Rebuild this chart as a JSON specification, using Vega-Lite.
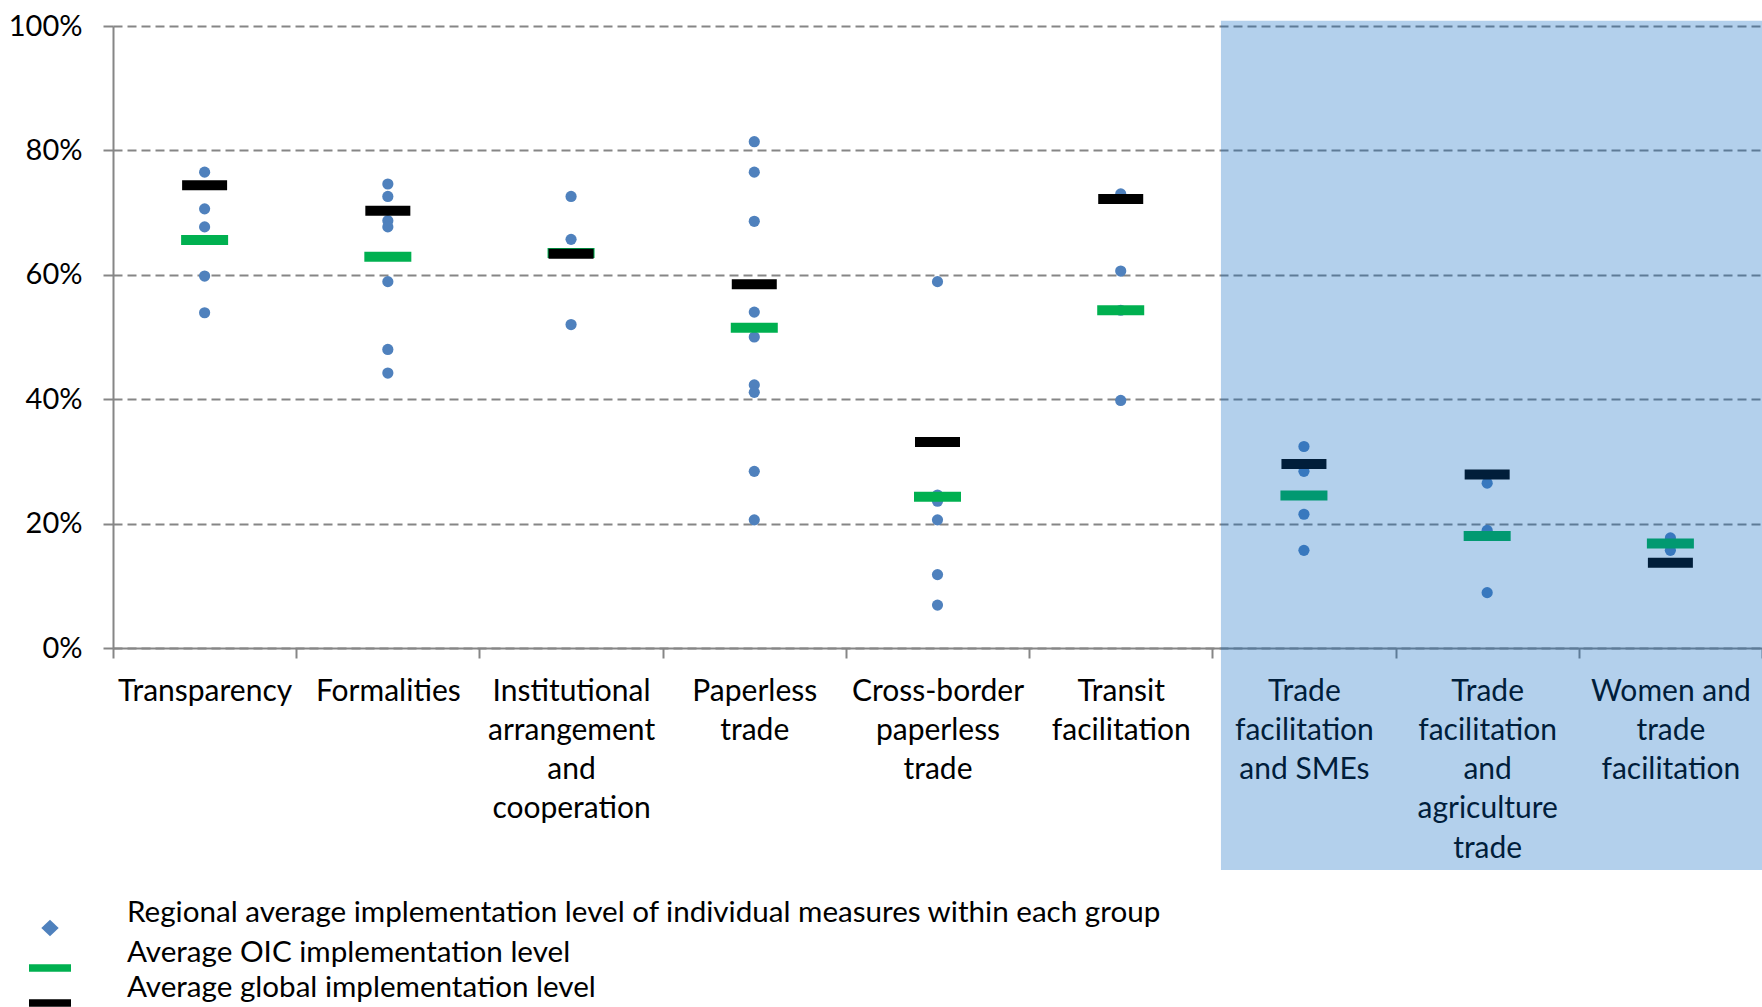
{
  "$schema": "https://vega.github.io/schema/vega-lite/v6.json",
  "width": 1649,
  "height": 622,
  "autosize": "none",
  "padding": {"left": 113, "top": 26, "right": 0, "bottom": 359},
  "background": "white",
  "config": {"view": {"stroke": null}, "font": "Lato"},
  "datasets": {
    "regional": [
      {"category": "Transparency", "value": 0.765},
      {"category": "Transparency", "value": 0.706},
      {"category": "Transparency", "value": 0.677},
      {"category": "Transparency", "value": 0.598},
      {"category": "Transparency", "value": 0.539},
      {"category": "Formalities", "value": 0.746},
      {"category": "Formalities", "value": 0.726},
      {"category": "Formalities", "value": 0.687},
      {"category": "Formalities", "value": 0.677},
      {"category": "Formalities", "value": 0.589},
      {"category": "Formalities", "value": 0.480},
      {"category": "Formalities", "value": 0.442},
      {"category": "Institutional arrangement and cooperation", "value": 0.726},
      {"category": "Institutional arrangement and cooperation", "value": 0.657},
      {"category": "Institutional arrangement and cooperation", "value": 0.520},
      {"category": "Paperless trade", "value": 0.814},
      {"category": "Paperless trade", "value": 0.765},
      {"category": "Paperless trade", "value": 0.686},
      {"category": "Paperless trade", "value": 0.540},
      {"category": "Paperless trade", "value": 0.500},
      {"category": "Paperless trade", "value": 0.423},
      {"category": "Paperless trade", "value": 0.411},
      {"category": "Paperless trade", "value": 0.284},
      {"category": "Paperless trade", "value": 0.206},
      {"category": "Cross-border paperless trade", "value": 0.589},
      {"category": "Cross-border paperless trade", "value": 0.246},
      {"category": "Cross-border paperless trade", "value": 0.236},
      {"category": "Cross-border paperless trade", "value": 0.206},
      {"category": "Cross-border paperless trade", "value": 0.118},
      {"category": "Cross-border paperless trade", "value": 0.069},
      {"category": "Transit facilitation", "value": 0.730},
      {"category": "Transit facilitation", "value": 0.606},
      {"category": "Transit facilitation", "value": 0.543},
      {"category": "Transit facilitation", "value": 0.398},
      {"category": "Trade facilitation and SMEs", "value": 0.324},
      {"category": "Trade facilitation and SMEs", "value": 0.284},
      {"category": "Trade facilitation and SMEs", "value": 0.215},
      {"category": "Trade facilitation and SMEs", "value": 0.157},
      {"category": "Trade facilitation and agriculture trade", "value": 0.265},
      {"category": "Trade facilitation and agriculture trade", "value": 0.189},
      {"category": "Trade facilitation and agriculture trade", "value": 0.089},
      {"category": "Women and trade facilitation", "value": 0.177},
      {"category": "Women and trade facilitation", "value": 0.157}
    ],
    "averages": [
      {"category": "Transparency", "series": "Average OIC implementation level", "value": 0.656},
      {"category": "Formalities", "series": "Average OIC implementation level", "value": 0.629},
      {"category": "Institutional arrangement and cooperation", "series": "Average OIC implementation level", "value": 0.635},
      {"category": "Paperless trade", "series": "Average OIC implementation level", "value": 0.515},
      {"category": "Cross-border paperless trade", "series": "Average OIC implementation level", "value": 0.243},
      {"category": "Transit facilitation", "series": "Average OIC implementation level", "value": 0.543},
      {"category": "Trade facilitation and SMEs", "series": "Average OIC implementation level", "value": 0.245},
      {"category": "Trade facilitation and agriculture trade", "series": "Average OIC implementation level", "value": 0.180},
      {"category": "Women and trade facilitation", "series": "Average OIC implementation level", "value": 0.168},
      {"category": "Transparency", "series": "Average global implementation level", "value": 0.744},
      {"category": "Formalities", "series": "Average global implementation level", "value": 0.703},
      {"category": "Institutional arrangement and cooperation", "series": "Average global implementation level", "value": 0.634},
      {"category": "Paperless trade", "series": "Average global implementation level", "value": 0.585},
      {"category": "Cross-border paperless trade", "series": "Average global implementation level", "value": 0.331},
      {"category": "Transit facilitation", "series": "Average global implementation level", "value": 0.722},
      {"category": "Trade facilitation and SMEs", "series": "Average global implementation level", "value": 0.296},
      {"category": "Trade facilitation and agriculture trade", "series": "Average global implementation level", "value": 0.279},
      {"category": "Women and trade facilitation", "series": "Average global implementation level", "value": 0.137}
    ],
    "legend": [
      {"series": "Regional average implementation level of individual measures within each group"},
      {"series": "Average OIC implementation level"},
      {"series": "Average global implementation level"}
    ],
    "shade": [
      {"from": 6.047, "to": 9, "top": 1.0085, "bottom": -0.357}
    ]
  },
  "layer": [
    {
      "layer": [
        {
          "data": {"name": "regional"},
          "mark": {"type": "point", "filled": true, "shape": "circle", "size": 125, "color": "#4F81BD", "opacity": 1, "strokeWidth": 0},
          "encoding": {
            "x": {
              "field": "category", "type": "nominal", "sort": null,
              "scale": {"type": "band", "paddingInner": 0, "paddingOuter": 0,
                "domain": ["Transparency", "Formalities", "Institutional arrangement and cooperation", "Paperless trade", "Cross-border paperless trade", "Transit facilitation", "Trade facilitation and SMEs", "Trade facilitation and agriculture trade", "Women and trade facilitation"]},
              "axis": {
                "title": null, "grid": false,
                "domainColor": "#868686", "domainWidth": 2,
                "tickColor": "#868686", "tickWidth": 2, "tickSize": 10, "tickBand": "extent",
                "labelAngle": 0, "labelFont": "Lato", "labelFontSize": 30, "labelColor": "#000000",
                "labelLineHeight": 39.3, "labelBaseline": "top", "labelPadding": 18, "labelLimit": 0,
                "labelOverlap": false,
                "labelExpr": "!isString(datum.value) ? '' : datum.value == 'Trade facilitation and SMEs' ? ['Trade', 'facilitation', 'and SMEs'] : datum.value == 'Women and trade facilitation' ? ['Women and', 'trade', 'facilitation'] : split(datum.value, ' ')"
              }
            },
            "y": {
              "field": "value", "type": "quantitative",
              "scale": {"domain": [0, 1], "nice": false, "zero": true},
              "axis": {
                "title": null, "format": ".0%", "values": [0, 0.2, 0.4, 0.6, 0.8, 1],
                "grid": true, "gridColor": "#868686", "gridDash": [9, 5], "gridWidth": 2,
                "domainColor": "#868686", "domainWidth": 2,
                "tickColor": "#868686", "tickWidth": 2, "tickSize": 10,
                "labelFont": "Lato", "labelFontSize": 29, "labelColor": "#000000", "labelPadding": 21
              }
            }
          }
        },
        {
          "data": {"name": "averages"},
          "transform": [{"filter": "datum.series == 'Average OIC implementation level'"}],
          "mark": {"type": "tick", "color": "#00B050", "opacity": 1, "size": 47, "thickness": 10},
          "encoding": {
            "x": {"field": "category", "type": "nominal", "sort": null},
            "y": {"field": "value", "type": "quantitative"}
          }
        },
        {
          "data": {"name": "averages"},
          "transform": [{"filter": "datum.series == 'Average global implementation level'"}],
          "mark": {"type": "tick", "color": "#000000", "opacity": 1, "size": 45, "thickness": 10},
          "encoding": {
            "x": {"field": "category", "type": "nominal", "sort": null},
            "y": {"field": "value", "type": "quantitative"}
          }
        },
        {
          "data": {"name": "legend"},
          "mark": {"type": "point", "filled": true, "opacity": 1, "strokeWidth": 0},
          "encoding": {
            "x": {"field": "category", "type": "nominal", "sort": null},
            "y": {"field": "value", "type": "quantitative"},
            "color": {
              "field": "series", "type": "nominal",
              "scale": {
                "domain": ["Regional average implementation level of individual measures within each group", "Average OIC implementation level", "Average global implementation level"],
                "range": ["#4F81BD", "#00B050", "#000000"]
              },
              "legend": {
                "title": null, "orient": "none", "legendX": -78, "legendY": 887,
                "symbolSize": 900, "symbolStrokeWidth": 0, "symbolOpacity": 1,
                "labelFont": "Lato", "labelFontSize": 29.6, "labelColor": "#000000", "labelLimit": 0,
                "labelOffset": 62, "labelBaseline": "bottom", "rowPadding": 1, "padding": 0
              }
            },
            "shape": {
              "field": "series", "type": "nominal",
              "scale": {
                "domain": ["Regional average implementation level of individual measures within each group", "Average OIC implementation level", "Average global implementation level"],
                "range": ["M0,-0.55L0.58,0L0,0.55L-0.58,0Z", "M-1.4,-0.25H1.4V0.25H-1.4Z", "M-1.4,-0.25H1.4V0.25H-1.4Z"]
              },
              "legend": {
                "title": null, "orient": "none", "legendX": -78, "legendY": 887,
                "symbolSize": 900, "symbolStrokeWidth": 0, "symbolOpacity": 1,
                "labelFont": "Lato", "labelFontSize": 29.6, "labelColor": "#000000", "labelLimit": 0,
                "labelOffset": 62, "labelBaseline": "bottom", "rowPadding": 1, "padding": 0
              }
            }
          }
        }
      ]
    },
    {
      "data": {"name": "shade"},
      "mark": {"type": "rect", "color": "#0262C0", "opacity": 0.3},
      "encoding": {
        "x": {"field": "from", "type": "quantitative", "scale": {"domain": [0, 9], "nice": false, "zero": false}, "axis": null},
        "x2": {"field": "to"},
        "y": {"field": "top", "type": "quantitative"},
        "y2": {"field": "bottom"}
      }
    }
  ],
  "resolve": {"scale": {"x": "independent"}}
}
